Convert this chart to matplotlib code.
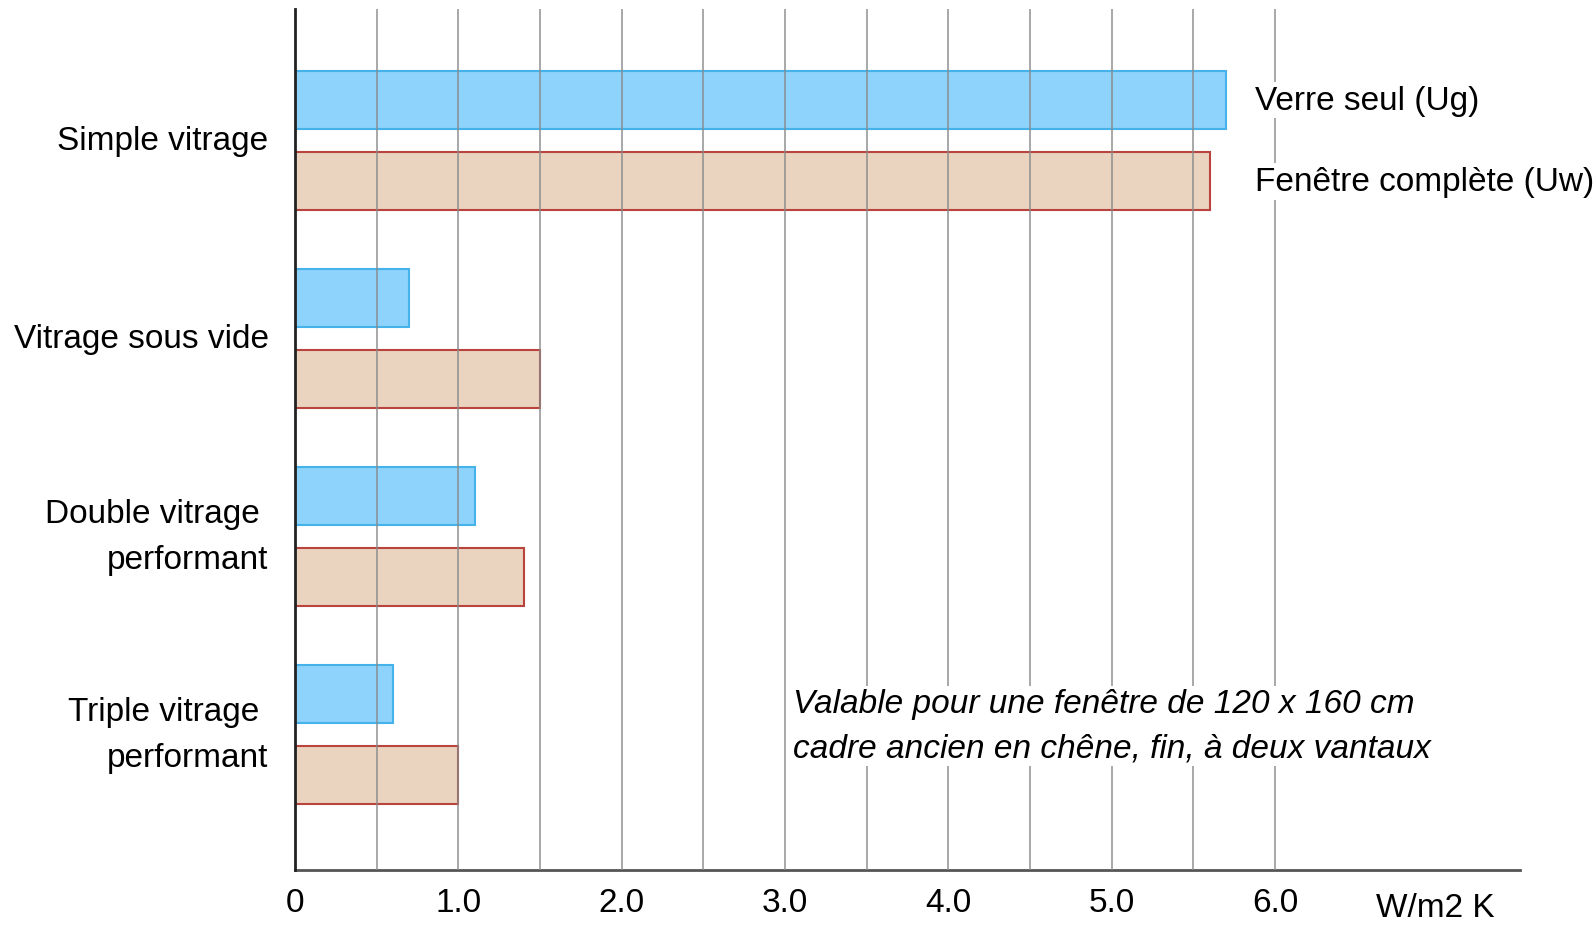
import numpy as np
import matplotlib.pyplot as plt
from matplotlib import font_manager

# Data (U values in W/m2 K)
categories = ['Simple vitrage', 'Vitrage sous vide', 'Double vitrage \nperformant', 'Triple vitrage \nperformant']
ug_values = [5.7, 0.7, 1.1, 0.6]   # Verre seul (Ug)
uw_values = [5.6, 1.5, 1.4, 1.0]   # Fenêtre complète (Uw)
series_labels = ['Verre seul (Ug)', 'Fenêtre complète (Uw)']
xtick_values = [0, 1, 2, 3, 4, 5, 6]
xtick_labels = ['0', '1.0', '2.0', '3.0', '4.0', '5.0', '6.0']
unit_label = 'W/m2 K'
note = 'Valable pour une fenêtre de 120 x 160 cm\ncadre ancien en chêne, fin, à deux vantaux'

# Pick a narrow sans font if available
names = set(f.name for f in font_manager.fontManager.ttflist)
family = ['Liberation Sans Narrow', 'Liberation Sans', 'DejaVu Sans']
family = [f for f in family if f in names] or ['DejaVu Sans']
plt.rcParams['font.family'] = family
fs = 24

fig = plt.figure(figsize=(15.94, 9.28), dpi=100)
ax = fig.add_axes([0.185, 0.0614, 0.7686, 0.9278])

y = np.arange(len(categories))
h = 0.293
off = 0.205

ax.barh(y - off, ug_values, height=h, color='#8dd3fb', edgecolor='#45b2ea', linewidth=1.5, zorder=1)
ax.barh(y + off, uw_values, height=h, color='#ead4bf', edgecolor='#b8443d', linewidth=1.5, zorder=1)

ax.set_xlim(0, 7.5)
ax.set_ylim(3.685, -0.666)

ax.set_xticks(xtick_values)
ax.set_xticklabels(xtick_labels, fontsize=fs)
ax.set_xticks(np.arange(0.5, 6.0, 1.0), minor=True)
ax.grid(axis='x', which='both', color='#8a8a8a', linewidth=1.3, alpha=0.8, zorder=2)
ax.set_axisbelow(False)

ax.set_yticks(y)
ax.set_yticklabels(categories, fontsize=fs, multialignment='right', linespacing=1.6, va='center')
ax.tick_params(axis='both', which='both', length=0)
ax.tick_params(axis='x', pad=12)
ax.tick_params(axis='y', pad=19)

for s in ['top', 'right']:
    ax.spines[s].set_visible(False)
ax.spines['left'].set_color('#222222')
ax.spines['left'].set_linewidth(2)
ax.spines['left'].set_zorder(3)
ax.spines['bottom'].set_color('#555555')
ax.spines['bottom'].set_linewidth(2)

# Series labels beside the first group
white = dict(facecolor='white', edgecolor='none', pad=2)
ax.text(5.88, y[0] - off, series_labels[0], fontsize=fs, va='center', ha='left', bbox=white, zorder=4)
ax.text(5.88, y[0] + off, series_labels[1], fontsize=fs, va='center', ha='left', bbox=white, zorder=4)

ax.text(3.05, 2.957, note, fontsize=fs, style='italic', va='center', ha='left',
        linespacing=1.55, bbox=white, zorder=4)

ax.text(6.98, -0.043, unit_label, fontsize=fs, va='center', ha='center',
        transform=ax.get_xaxis_transform())

fig.savefig('out.png', dpi=100)
